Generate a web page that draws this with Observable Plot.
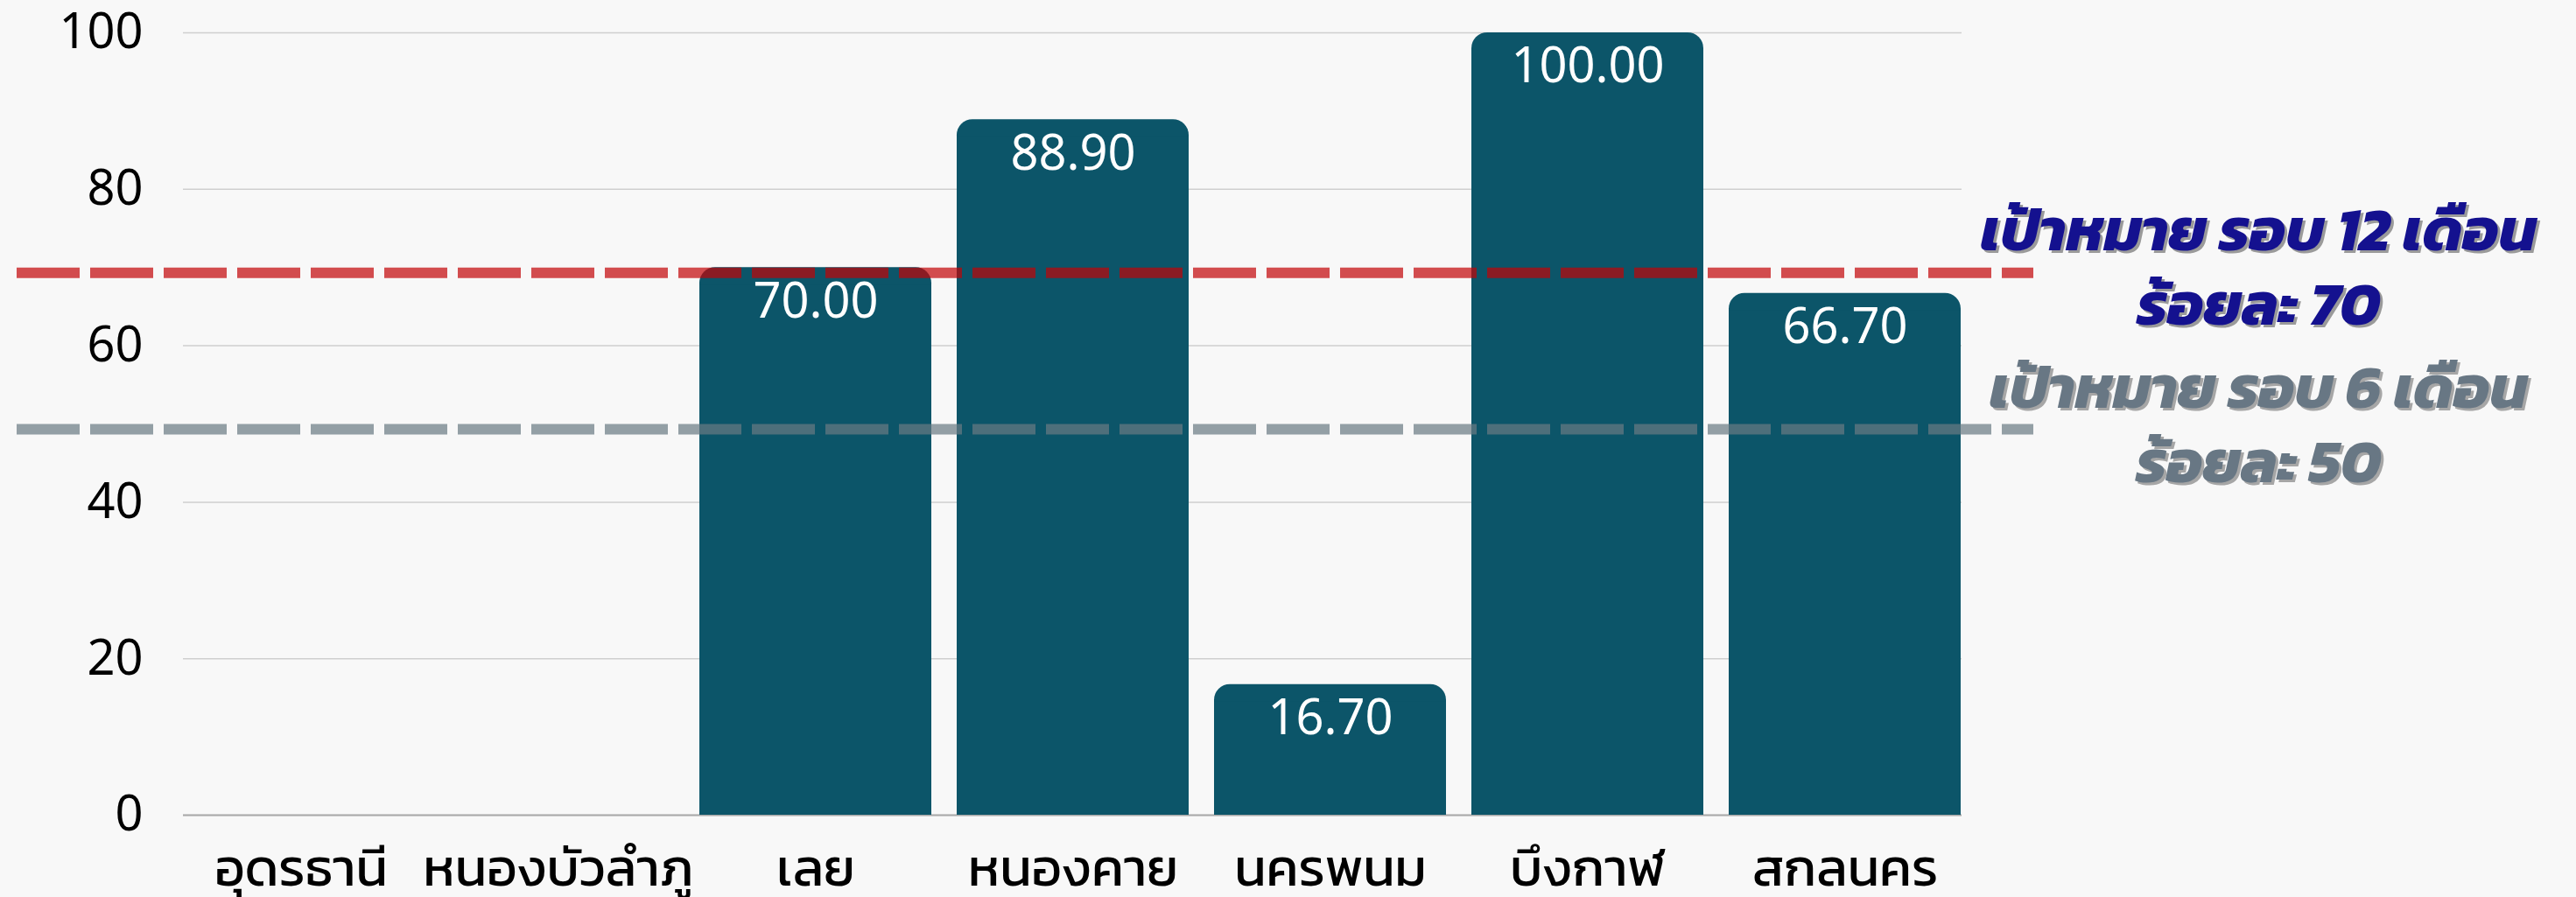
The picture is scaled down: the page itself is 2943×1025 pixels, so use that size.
<!DOCTYPE html>
<html>
<head>
<meta charset="utf-8">
<script src="https://cdn.jsdelivr.net/npm/d3@7"></script>
<script src="https://cdn.jsdelivr.net/npm/@observablehq/plot@0.6"></script>
<style>
  html, body { margin: 0; padding: 0; background: #f8f8f8; }
  #chart svg { display: block; }
</style>
</head>
<body>
<div id="chart"></div>
<script>
const categories = ["อุดรธานี", "หนองบัวลำภู", "เลย", "หนองคาย", "นครพนม", "บึงกาฬ", "สกลนคร"];
const values = [0, 0, 70, 88.9, 16.7, 100, 66.7];
const yTicks = [0, 20, 40, 60, 80, 100];
const target12 = 70;
const target6 = 50;
const label12 = "เป้าหมาย รอบ 12 เดือน\nร้อยละ 70";
const label6 = "เป้าหมาย รอบ 6 เดือน\nร้อยละ 50";

const data = categories.map((c, i) => ({category: c, value: values[i]}));
const nonZero = data.filter(d => d.value > 0);

const thaiFont = "Kanit, 'Noto Sans Thai', 'Noto Sans Thai UI', 'Noto Sans', sans-serif";
const numFont = "'Noto Sans', 'Open Sans', sans-serif";

const annot = (value, label, fill, dx, dy) => Plot.text([value], {
  y: d => d, text: () => label, frameAnchor: "right", dx, dy,
  textAnchor: "middle", fontSize: 69, fontWeight: "bold", fontStyle: "italic",
  lineHeight: 1.23, fill, fontFamily: thaiFont
});

const chart = Plot.plot({
  width: 2943,
  height: 1025,
  marginLeft: 209,
  marginRight: 702,
  marginTop: 37,
  marginBottom: 94,
  style: {background: "#f8f8f8", fontFamily: numFont, color: "#000", overflow: "visible"},
  x: {domain: categories, paddingInner: 0.1, paddingOuter: 0},
  y: {domain: [0, 100]},
  marks: [
    Plot.gridY(yTicks, {stroke: "#cfcfcf", strokeOpacity: 1, strokeWidth: 1.5}),
    Plot.axisY(yTicks, {tickSize: 0, tickPadding: 46, fontSize: 56, fontFamily: numFont, label: null, tickFormat: d => String(d)}),
    Plot.axisX({tickSize: 0, tickPadding: 38, fontSize: 60, fontFamily: thaiFont, label: null}),
    Plot.ruleY([0], {stroke: "#a9a9a9", strokeWidth: 2}),
    Plot.barY(nonZero, {x: "category", y: "value", fill: "#0c5569", rx: 18}),
    Plot.barY(nonZero, {x: "category", y: "value", fill: "#0c5569", insetTop: 20}),
    Plot.ruleY([target12], {stroke: "rgb(194,3,6)", strokeOpacity: 0.7, strokeWidth: 12, strokeDasharray: "72,12", dy: 6, insetLeft: -190, insetRight: -82}),
    Plot.ruleY([target6], {stroke: "rgb(106,122,131)", strokeOpacity: 0.71, strokeWidth: 12, strokeDasharray: "72,12", dy: 6, insetLeft: -190, insetRight: -82}),
    Plot.text(nonZero, {x: "category", y: "value", text: d => d.value.toFixed(2), dy: 39, fill: "white", fontSize: 56, fontFamily: numFont, lineAnchor: "middle"}),
    annot(target12, label12, "#9a9a9a", 342, -1),
    annot(target12, label12, "#14118f", 339, -4),
    annot(target6, label6, "#a6a6a6", 342, 0),
    annot(target6, label6, "#687784", 339, -3)
  ]
});
document.getElementById("chart").appendChild(chart);
</script>
</body>
</html>
